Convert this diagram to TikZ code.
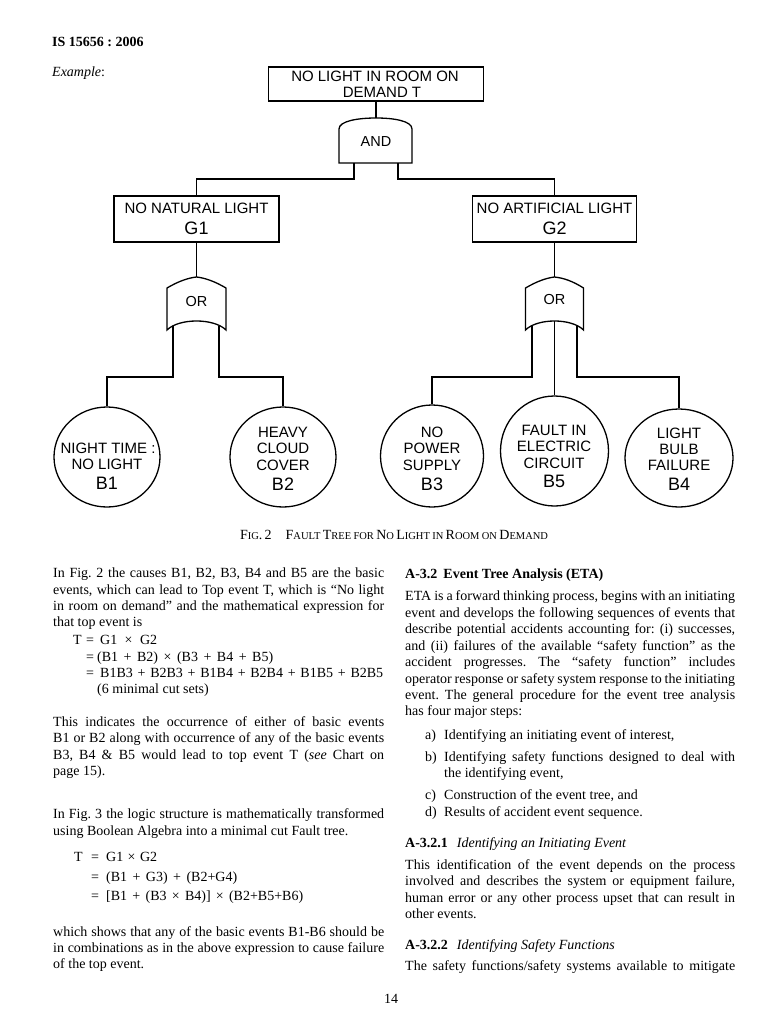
\documentclass[tikz,border=0pt]{standalone}
\usepackage{fontspec}
\setmainfont{Liberation Serif}
\setsansfont{Liberation Sans}
\usetikzlibrary{shapes.geometric}
\frenchspacing
\newcommand\smc[1]{{\fontsize{10.5}{12}\selectfont #1}}
\newcommand\JL[5]{\node[body] (#1) at (#2,#3) {\makebox[#4pt][s]{#5}};}
\newcommand\PL[4]{\node[body] (#1) at (#2,#3) {#4};}
\tikzset{
 ln/.style={line width=1.3pt, line join=miter},
 evbox/.style={draw, line width=1.3pt, inner sep=0pt},
 basic/.style={draw, ellipse, line width=1.3pt, inner sep=0pt},
 lab/.style={inner sep=0pt, anchor=base, font=\sffamily\fontsize{15}{16}\selectfont},
 big/.style={inner sep=0pt, anchor=base, font=\sffamily\fontsize{18}{19}\selectfont},
 gatetxt/.style={inner sep=0pt, font=\sffamily\fontsize{14.5}{15}\selectfont},
 body/.style={inner sep=0pt, anchor=base west, font=\fontsize{14}{16}\selectfont},
}
\begin{document}
\begin{tikzpicture}[x=1pt,y=-1pt]
\fill[white] (0,0) rectangle (768,1024);
\useasboundingbox (0,0) rectangle (768,1024);

% header
\node[inner sep=0pt, anchor=base west, font=\bfseries\fontsize{14}{16}\selectfont] (hdr) at (52,47) {IS 15656 : 2006};
\node[inner sep=0pt, anchor=base west, font=\fontsize{14}{16}\selectfont] (ex) at (52,77) {\textit{Example}:};

% top event
\node[evbox, minimum width=215pt, minimum height=34pt] (top) at (376,84) {};
\node[lab] (topa) at (375,82) {NO LIGHT IN ROOM ON};
\node[lab] (topb) at (382,98) {DEMAND T};

% AND gate
\draw[ln] (339,163) -- (339,129) .. controls (339,121) and (358,118) .. (376,118) .. controls (394,118) and (412,121) .. (412,129) -- (412,163) -- cycle;
\node[gatetxt] (andg) at (376,142) {AND};
\coordinate (andtop) at (376,118);
\coordinate (andL) at (354,163);
\coordinate (andR) at (398,163);
\coordinate (andbus) at (0,179);

% G boxes
\node[evbox, minimum width=165pt, minimum height=46pt] (g1) at (196.5,219) {};
\node[lab] (g1a) at (196.5,214) {NO NATURAL LIGHT};
\node[big] (g1b) at (196.5,234) {G1};
\node[evbox, minimum width=164pt, minimum height=46pt] (g2) at (554.5,219) {};
\node[lab] (g2a) at (554.5,214) {NO ARTIFICIAL LIGHT};
\node[big] (g2b) at (554.5,234) {G2};

% OR gates
\draw[ln] (167,330) -- (167,288) .. controls (179,281) and (188,278) .. (196.5,277) .. controls (205,278) and (214,281) .. (226,288) -- (226,330) .. controls (214,318) and (179,318) .. cycle;
\node[gatetxt] (or1) at (196.5,302) {OR};
\coordinate (or1top) at (196.5,277);
\coordinate (or1L) at (173,326);
\coordinate (or1R) at (219,326);

\draw[ln] (525.5,330) -- (525.5,288) .. controls (537.5,281) and (546.5,278) .. (554.5,277) .. controls (563.5,278) and (572.5,281) .. (583.5,288) -- (583.5,330) .. controls (571.5,318) and (537.5,318) .. cycle;
\node[gatetxt] (or2) at (554.5,300) {OR};
\coordinate (or2top) at (554.5,277);
\coordinate (or2L) at (532,326);
\coordinate (or2M) at (554.5,321);
\coordinate (or2R) at (577,326);
\coordinate (bus) at (0,377);

% basic events
\node[basic, minimum width=106pt, minimum height=100pt] (b1) at (107,457) {};
\node[basic, minimum width=106pt, minimum height=100pt] (b2) at (283,457) {};
\node[basic, minimum width=103pt, minimum height=102pt] (b3) at (432,456) {};
\node[basic, minimum width=108pt, minimum height=110pt] (b5) at (554.5,451) {};
\node[basic, minimum width=108pt, minimum height=98pt] (b4) at (679,458) {};

\node[lab] (b1a) at (108,453) {NIGHT TIME :};
\node[lab] (b1b) at (107,469) {NO LIGHT};
\node[big] (b1c) at (107,489) {B1};
\node[lab] (b2a) at (283,437) {HEAVY};
\node[lab] (b2b) at (283,453) {CLOUD};
\node[lab] (b2c) at (283,470) {COVER};
\node[big] (b2d) at (283,490) {B2};
\node[lab] (b3a) at (432,437) {NO};
\node[lab] (b3b) at (432,453) {POWER};
\node[lab] (b3c) at (432,470) {SUPPLY};
\node[big] (b3d) at (432,490) {B3};
\node[lab] (b5a) at (554,435) {FAULT IN};
\node[lab] (b5b) at (554,451) {ELECTRIC};
\node[lab] (b5c) at (554,468) {CIRCUIT};
\node[big] (b5d) at (554,487) {B5};
\node[lab] (b4a) at (679,438) {LIGHT};
\node[lab] (b4b) at (679,454) {BULB};
\node[lab] (b4c) at (679,470) {FAILURE};
\node[big] (b4d) at (679,490) {B4};

% connectors
\draw[ln] (top.south) -- (andtop);
\draw[ln] (andL) -- (andL |- andbus) -| (g1.north);
\draw[ln] (andR) -- (andR |- andbus) -| (g2.north);
\draw[ln] (g1.south) -- (or1top);
\draw[ln] (g2.south) -- (or2top);
\draw[ln] (or1L) -- (or1L |- bus) -| (b1.north);
\draw[ln] (or1R) -- (or1R |- bus) -| (b2.north);
\draw[ln] (or2L) -- (or2L |- bus) -| (b3.north);
\draw[ln] (or2M) -- (b5.north);
\draw[ln] (or2R) -- (or2R |- bus) -| (b4.north);

% caption
\node[inner sep=0pt, anchor=base, font=\fontsize{14}{15}\selectfont] (cap) at (394,539) {\makebox[308pt][s]{F\smc{IG}. 2\quad F\smc{AULT} T\smc{REE} \smc{FOR} N\smc{O} L\smc{IGHT} \smc{IN} R\smc{OOM} \smc{ON} D\smc{EMAND}}};

% left column
\JL{l1}{53}{577}{331}{In Fig. 2 the causes B1, B2, B3, B4 and B5 are the basic}
\JL{l2}{53}{594}{331}{events, which can lead to Top event T, which is “No light}
\JL{l3}{53}{610}{331}{in room on demand” and the mathematical expression for}
\PL{l4}{53}{626}{that top event is}
\PL{e1t}{73}{644}{T}
\PL{e1q}{86}{644}{=}
\JL{e1}{100}{644}{57}{G1 × G2}
\PL{e2q}{86}{661}{=}
\JL{e2}{97}{661}{176}{(B1 + B2) × (B3 + B4 + B5)}
\PL{e3q}{86}{677}{=}
\JL{e3}{100}{677}{283}{B1B3 + B2B3 + B1B4 + B2B4 + B1B5 + B2B5}
\PL{e4}{97}{693}{(6 minimal cut sets)}
\JL{l5}{53}{726}{331}{This indicates the occurrence of either of basic events}
\JL{l6}{53}{742}{331}{B1 or B2 along with occurrence of any of the basic events}
\JL{l7}{53}{759}{331}{B3, B4 \& B5 would lead to top event T (\textit{see} Chart on}
\PL{l8}{53}{775}{page 15).}
\JL{l9}{53}{818}{331}{In Fig. 3 the logic structure is mathematically transformed}
\PL{l10}{53}{835}{using Boolean Algebra into a minimal cut Fault tree.}
\PL{f1t}{74}{861}{T}
\PL{f1q}{91}{861}{=}
\JL{f1}{106}{861}{51}{G1 × G2}
\PL{f2q}{91}{881}{=}
\JL{f2}{106}{881}{131}{(B1 + G3) + (B2+G4)}
\PL{f3q}{91}{900}{=}
\JL{f3}{106}{900}{197}{[B1 + (B3 × B4)] × (B2+B5+B6)}
\JL{l11}{53}{936}{331}{which shows that any of the basic events B1-B6 should be}
\JL{l12}{53}{952}{331}{in combinations as in the above expression to cause failure}
\PL{l13}{53}{968}{of the top event.}

% right column
\PL{r0}{405}{578}{\textbf{A-3.2\hspace{6pt}Event Tree Analysis (ETA)}}
\JL{r1}{405}{600}{330}{ETA is a forward thinking process, begins with an initiating}
\JL{r2}{405}{617}{330}{event and develops the following sequences of events that}
\JL{r3}{405}{633}{330}{describe potential accidents accounting for: (i) successes,}
\JL{r4}{405}{650}{330}{and (ii) failures of the available “safety function” as the}
\JL{r5}{405}{666}{330}{accident progresses. The “safety function” includes}
\JL{r6}{405}{683}{330}{operator response or safety system response to the initiating}
\JL{r7}{405}{699}{330}{event. The general procedure for the event tree analysis}
\PL{r8}{405}{715}{has four major steps:}
\PL{ra}{425}{739}{a)}
\PL{rat}{444}{739}{Identifying an initiating event of interest,}
\PL{rb}{425}{761}{b)}
\JL{rbt}{444}{761}{291}{Identifying safety functions designed to deal with}
\PL{rb2}{444}{777}{the identifying event,}
\PL{rc}{425}{799}{c)}
\PL{rct}{444}{799}{Construction of the event tree, and}
\PL{rd}{425}{816}{d)}
\PL{rdt}{444}{816}{Results of accident event sequence.}
\PL{rh1}{405}{847}{\textbf{A-3.2.1}\hspace{9pt}\textit{Identifying an Initiating Event}}
\JL{rs1}{405}{869}{330}{This identification of the event depends on the process}
\JL{rs2}{405}{885}{330}{involved and describes the system or equipment failure,}
\JL{rs3}{405}{902}{330}{human error or any other process upset that can result in}
\PL{rs4}{405}{918}{other events.}
\PL{rh2}{405}{949}{\textbf{A-3.2.2}\hspace{9pt}\textit{Identifying Safety Functions}}
\JL{rs5}{405}{970}{330}{The safety functions/safety systems available to mitigate}

\node[inner sep=0pt, anchor=base, font=\fontsize{14}{16}\selectfont] (pg) at (391,1003) {14};
\end{tikzpicture}
\end{document}
